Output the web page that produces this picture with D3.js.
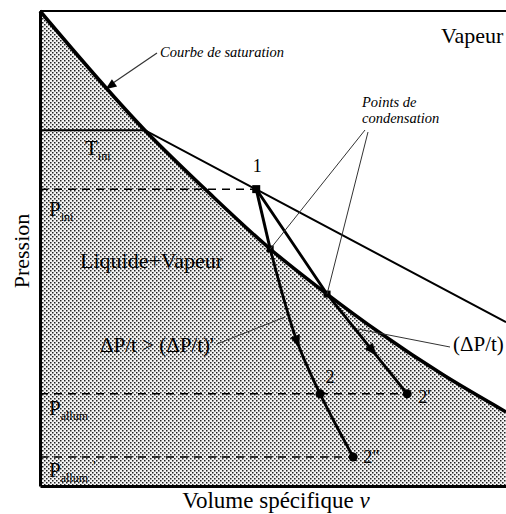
<!DOCTYPE html>
<html><head><meta charset="utf-8">
<script src="https://cdn.jsdelivr.net/npm/d3@7"></script>
<style>
body{margin:0;background:#fff;overflow:hidden}
svg{display:block}
text{font-family:"Liberation Serif","Times New Roman",serif;fill:#000}
</style>
</head><body><svg id="chart" width="506" height="514"></svg>
<script>
// Saturation curve: specific volume v against pressure P (arbitrary units)
const satV = [0, 2.25, 3.65, 4.94, 6.16, 7.30, 8.65, 10];
const satP = [10, 7.49, 6.15, 4.99, 4.04, 3.22, 2.34, 1.56];
// Initial isotherm T_ini: liquid-vapour plateau, then vapour branch
const isoV = [0, 2.25, 10];
const isoP = [7.49, 7.49, 3.45];
// Key states of the expansion
const stateNames = ["1", "2", "2'", "2\""];
const stateV = [4.64, 6.01, 7.88, 6.72];
const stateP = [6.25, 1.94, 1.94, 0.61];
// Condensation points on the saturation curve (fast, slow expansion)
const condV = [4.94, 6.16];
const condP = [4.99, 4.04];
// Fast expansion, from its condensation point through 2 down to 2"
const fastV = [4.94, 5.52, 6.01, 6.72];
const fastP = [4.99, 3.03, 1.94, 0.61];
// Pressure levels drawn as dashed lines
const levelP = [6.25, 1.94, 0.61];
const levelEndV = [4.64, 7.88, 6.72];

const svg = d3.select("#chart");
const x = d3.scaleLinear().domain([0, 10]).range([40, 506]);
const y = d3.scaleLinear().domain([0, 10]).range([486, 11]);
const sat = satV.map((v, i) => [v, satP[i]]);

// dotted fill for the two-phase region
const defs = svg.append("defs");
const pat = defs.append("pattern").attr("id", "dots")
  .attr("patternUnits", "userSpaceOnUse").attr("width", 4).attr("height", 4);
pat.append("rect").attr("width", 4).attr("height", 4).attr("fill", "#f4f4f4");
pat.append("rect").attr("x", 0).attr("y", 0).attr("width", 1.5).attr("height", 1.5).attr("fill", "#222");
pat.append("rect").attr("x", 2).attr("y", 2).attr("width", 1.5).attr("height", 1.5).attr("fill", "#222");

svg.append("path").datum(sat)
  .attr("d", d3.area().curve(d3.curveMonotoneX)
    .x(d => x(d[0])).y0(y(0)).y1(d => y(d[1])))
  .attr("fill", "url(#dots)");

// axes without ticks
svg.append("g").attr("transform", `translate(0,${y(0)})`)
  .call(d3.axisBottom(x).tickValues([]).tickSizeOuter(0))
  .select(".domain").attr("stroke", "#000").attr("stroke-width", 3);
svg.append("g").attr("transform", `translate(${x(0)},0)`)
  .call(d3.axisLeft(y).tickValues([]).tickSizeOuter(0))
  .select(".domain").attr("stroke", "#000").attr("stroke-width", 3);
svg.append("line").attr("x1", x(0)).attr("x2", x(10))
  .attr("y1", y(10)).attr("y2", y(10)).attr("stroke", "#000").attr("stroke-width", 2);

// dashed pressure levels
svg.selectAll(".lvl").data(levelP).join("line").attr("class", "lvl")
  .attr("x1", x(0)).attr("x2", (d, i) => x(levelEndV[i]))
  .attr("y1", d => y(d)).attr("y2", d => y(d))
  .attr("stroke", "#000").attr("stroke-width", 1.5).attr("stroke-dasharray", "8,6");

// isotherm
const plain = d3.line().x(d => x(d[0])).y(d => y(d[1]));
svg.append("path").datum(isoV.map((v, i) => [v, isoP[i]]))
  .attr("d", plain).attr("fill", "none").attr("stroke", "#000").attr("stroke-width", 2);

// saturation curve
svg.append("path").datum(sat)
  .attr("d", d3.line().curve(d3.curveMonotoneX).x(d => x(d[0])).y(d => y(d[1])))
  .attr("fill", "none").attr("stroke", "#000").attr("stroke-width", 3.5);

// expansion paths
const p1 = [stateV[0], stateP[0]];
svg.append("path").datum([p1, [condV[0], condP[0]]]).attr("d", plain)
  .attr("fill", "none").attr("stroke", "#000").attr("stroke-width", 3);
svg.append("path").datum(fastV.map((v, i) => [v, fastP[i]]))
  .attr("d", d3.line().curve(d3.curveCatmullRom).x(d => x(d[0])).y(d => y(d[1])))
  .attr("fill", "none").attr("stroke", "#000").attr("stroke-width", 2.8);
svg.append("path").datum([p1, [condV[1], condP[1]], [stateV[2], stateP[2]]]).attr("d", plain)
  .attr("fill", "none").attr("stroke", "#000").attr("stroke-width", 2.8).attr("stroke-linejoin", "round");

// direction arrows
function arrowAt(px, py, ang, len, hw) {
  svg.append("path")
    .attr("d", `M${len / 2},0L${-len / 2},${-hw}L${-len / 2},${hw}Z`)
    .attr("transform", `translate(${px},${py}) rotate(${ang * 180 / Math.PI})`)
    .attr("fill", "#000");
}
{
  const ax = x(fastV[1]), ay = y(fastP[1]);
  const ang = Math.atan2(y(fastP[2]) - y(fastP[0]), x(fastV[2]) - x(fastV[0]));
  arrowAt(ax, ay, ang, 13, 5);
  const bx0 = x(condV[1]), by0 = y(condP[1]), bx1 = x(stateV[2]), by1 = y(stateP[2]);
  const t = 0.57;
  arrowAt(bx0 + (bx1 - bx0) * t, by0 + (by1 - by0) * t, Math.atan2(by1 - by0, bx1 - bx0), 13, 5);
}

// markers
svg.append("rect").attr("x", x(stateV[0]) - 4).attr("y", y(stateP[0]) - 4)
  .attr("width", 8).attr("height", 8).attr("fill", "#000");
svg.selectAll(".cond").data(condV).join("rect").attr("class", "cond")
  .attr("x", d => x(d) - 3.5).attr("y", (d, i) => y(condP[i]) - 3.5)
  .attr("width", 7).attr("height", 7).attr("fill", "#000");
svg.selectAll(".st").data(stateV.slice(1)).join("circle").attr("class", "st")
  .attr("cx", d => x(d)).attr("cy", (d, i) => y(stateP[i + 1])).attr("r", 4.5).attr("fill", "#000");

// leader lines
const lead = (x1, y1, x2, y2, w) => svg.append("line")
  .attr("x1", x1).attr("y1", y1).attr("x2", x2).attr("y2", y2)
  .attr("stroke", "#333").attr("stroke-width", w || 1);
lead(157, 53, 113, 83, 1.2);
arrowAt(110, 86, Math.atan2(86 - 53, 110 - 157), 11, 4.5);
lead(365, 130, x(condV[0]), y(condP[0]));
lead(368, 132, x(condV[1]), y(condP[1]));
lead(217, 344, 285, 317);
lead(358, 329, 450, 347);

// labels
const txt = (s, px, py, size, opts = {}) => svg.append("text")
  .attr("x", px).attr("y", py).attr("font-size", size)
  .attr("font-style", opts.italic ? "italic" : null)
  .attr("text-anchor", opts.anchor || "start").text(s);

txt("Vapeur", 441, 43, 22);
txt("Courbe de saturation", 160, 57, 14.5, {italic: true});
txt("Points de", 362, 107, 14.5, {italic: true});
txt("condensation", 362, 123, 14.5, {italic: true});
txt("Liquide+Vapeur", 80, 268, 22);
txt("\u0394P/t > (\u0394P/t)'", 100, 352, 21);
txt("(\u0394P/t)", 453, 351, 21);

txt(stateNames[0], x(stateV[0]) + 1, 172, 18, {anchor: "middle"});
txt(stateNames[1], x(stateV[1]) + 10, 383, 18, {anchor: "middle"});
txt(stateNames[2], x(stateV[2]) + 11, 403, 18);
txt(stateNames[3], x(stateV[3]) + 10, 463, 18);

// subscripted symbols
function sym(main, sub, px, py) {
  const t = svg.append("text").attr("x", px).attr("y", py).attr("font-size", 21);
  t.append("tspan").text(main);
  t.append("tspan").attr("font-size", 12).attr("dy", 5).text(sub);
}
sym("T", "ini", 85, 155);
sym("P", "ini", 49, 216);
sym("P", "allum", 49, 415);
sym("P", "allum", 49, 477);
txt("'", 93, 471, 15);

svg.append("text").attr("transform", "translate(29,251) rotate(-90)")
  .attr("text-anchor", "middle").attr("font-size", 22).text("Pression");
const xl = svg.append("text").attr("x", 276).attr("y", 508)
  .attr("text-anchor", "middle").attr("font-size", 23);
xl.append("tspan").text("Volume spécifique ");
xl.append("tspan").attr("font-style", "italic").text("v");
</script>
</body></html>
